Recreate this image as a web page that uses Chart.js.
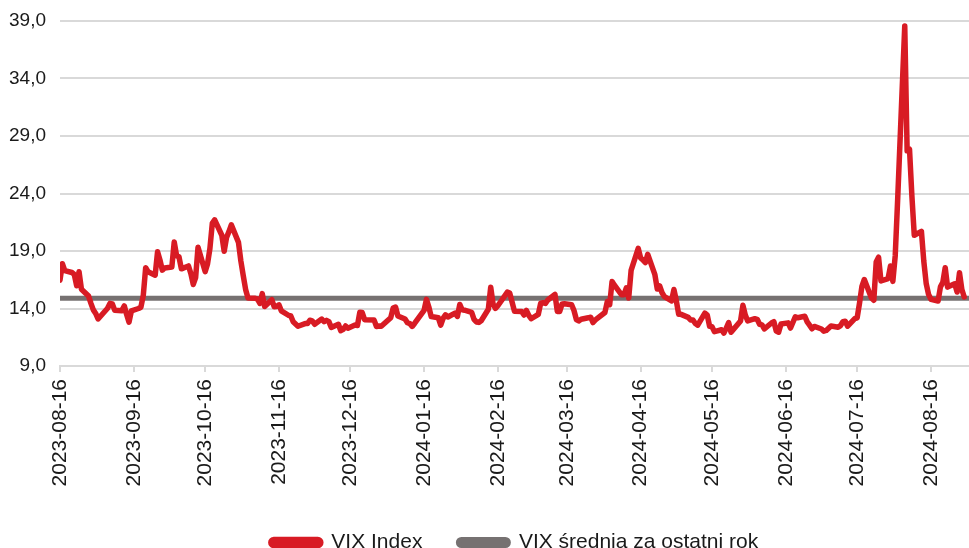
<!DOCTYPE html>
<html>
<head>
<meta charset="utf-8">
<script src="https://cdn.jsdelivr.net/npm/chart.js@4"></script>
<style>
  html, body { margin: 0; padding: 0; background: #fff; }
  #wrap { width: 969px; height: 548px; position: relative; }
</style>
</head>
<body>
<div id="wrap"><canvas id="myChart" width="969" height="548"></canvas></div>
<script>
// trading days, grouped by month
const months = ['2023-08','2023-09','2023-10','2023-11','2023-12','2024-01','2024-02','2024-03','2024-04','2024-05','2024-06','2024-07','2024-08'];
const days = [
  [16,17,18,21,22,23,24,25,28,29,30,31],
  [1,5,6,7,8,11,12,13,14,15,18,19,20,21,22,25,26,27,28,29],
  [2,3,4,5,6,9,10,11,12,13,16,17,18,19,20,23,24,25,26,27,30,31],
  [1,2,3,6,7,8,9,10,13,14,15,16,17,20,21,22,24,27,28,29,30],
  [1,4,5,6,7,8,11,12,13,14,15,18,19,20,21,22,26,27,28,29],
  [2,3,4,5,8,9,10,11,12,16,17,18,19,22,23,24,25,26,29,30,31],
  [1,2,5,6,7,8,9,12,13,14,15,16,20,21,22,23,26,27,28,29],
  [1,4,5,6,7,8,11,12,13,14,15,18,19,20,21,22,25,26,27,28],
  [1,2,3,4,5,8,9,10,11,12,15,16,17,18,19,22,23,24,25,26,29,30],
  [1,2,3,6,7,8,9,10,13,14,15,16,17,20,21,22,23,24,28,29,30,31],
  [3,4,5,6,7,10,11,12,13,14,17,18,20,21,24,25,26,27,28],
  [1,2,3,5,8,9,10,11,12,15,16,17,18,19,22,23,24,25,26,29,30,31],
  [1,2,5,6,7,8,9,12,13,14,15,16,19,20,21,22,23,26,27,28,29,30]
];
const vix = [
  [16.46,17.89,17.30,17.13,16.97,15.98,17.20,15.68,15.08,14.45,13.88,13.57],
  [13.09,14.02,14.45,14.40,13.84,13.80,14.23,13.48,12.82,13.79,14.00,14.11,15.14,17.54,17.20,16.90,18.94,18.22,17.34,17.52],
  [17.61,19.78,18.58,18.49,17.45,17.70,17.03,16.09,16.69,19.32,17.21,17.88,19.22,21.40,21.71,20.37,18.97,20.19,20.68,21.27,19.75,18.14],
  [16.87,15.66,14.91,14.89,14.81,14.45,15.29,14.17,14.76,14.16,14.18,14.32,13.80,13.41,13.35,12.85,12.46,12.69,12.69,12.98,12.92],
  [12.63,13.08,12.85,12.97,12.86,12.35,12.63,12.07,12.19,12.48,12.28,12.56,12.53,13.67,13.65,13.03,12.99,12.43,12.47,12.45],
  [13.20,14.04,14.13,13.35,13.08,12.76,12.69,12.44,12.70,13.84,14.79,14.13,13.30,13.19,12.55,13.14,13.45,13.26,13.60,13.31,14.35],
  [13.88,13.85,13.67,13.06,12.83,12.79,12.93,13.93,15.85,14.38,14.01,14.24,15.42,15.34,14.54,13.75,13.74,13.43,13.84,13.40],
  [13.11,13.49,14.46,14.50,14.44,14.74,15.23,13.75,13.75,14.40,14.41,14.33,13.82,13.04,12.92,13.06,13.19,13.24,12.78,13.01],
  [13.65,14.61,14.33,16.35,16.03,15.19,15.20,15.80,14.91,17.31,19.23,18.40,18.21,18.00,18.71,16.94,15.69,15.97,15.37,15.03,14.67,15.65],
  [14.68,13.49,13.49,13.23,13.00,13.00,12.69,12.55,13.60,13.42,12.45,12.42,11.99,12.15,11.86,12.29,12.77,11.93,12.92,14.28,13.43,12.92],
  [13.11,13.06,12.63,12.58,12.22,12.74,12.85,12.04,11.94,12.66,12.75,12.30,13.28,13.20,13.33,12.84,12.55,12.24,12.44],
  [12.22,12.03,12.09,12.48,12.37,12.51,12.85,12.89,12.46,13.12,13.19,14.48,15.93,16.52,14.91,14.72,18.04,18.46,16.39,16.60,17.69,16.36],
  [18.59,23.39,38.57,27.71,27.85,23.79,20.37,20.71,18.12,16.19,15.23,14.80,14.65,15.88,16.27,17.55,15.86,16.15,15.43,17.11,15.65,15.00]
];
const vixMean = 14.9;

const tickLabels = ['2023-08-16','2023-09-16','2023-10-16','2023-11-16','2023-12-16','2024-01-16','2024-02-16','2024-03-16','2024-04-16','2024-05-16','2024-06-16','2024-07-16','2024-08-16'];
const yTicks = [9, 14, 19, 24, 29, 34, 39];
const axisStart = '2023-08-16';
const axisEnd = '2024-09-01';

// day number counted from axisStart
const t0 = Date.parse(axisStart + 'T00:00:00Z');
const dayNo = s => Math.round((Date.parse(s + 'T00:00:00Z') - t0) / 86400000);

const vixPoints = [];
months.forEach((m, i) => {
  days[i].forEach((d, j) => {
    const ds = m + '-' + String(d).padStart(2, '0');
    vixPoints.push({ x: dayNo(ds), y: vix[i][j] });
  });
});
const meanPoints = [{ x: dayNo(axisStart), y: vixMean }, { x: dayNo(axisEnd), y: vixMean }];

const FONT = "'Liberation Sans', Arial, sans-serif";
const RED = '#D81B24';
const GREY = '#767171';

const ctx = document.getElementById('myChart').getContext('2d');
const myChart = new Chart(ctx, {
  type: 'line',
  data: {
    datasets: [{
      label: 'VIX Index',
      data: vixPoints,
      borderColor: RED,
      backgroundColor: RED,
      borderWidth: 5.5,
      pointRadius: 0,
      tension: 0,
      borderJoinStyle: 'round',
      borderCapStyle: 'round'
    }, {
      label: 'VIX średnia za ostatni rok',
      data: meanPoints,
      borderColor: GREY,
      backgroundColor: GREY,
      borderWidth: 5,
      pointRadius: 0,
      tension: 0
    }]
  },
  options: {
    responsive: false,
    animation: false,
    events: [],
    layout: { padding: { top: 21, right: 0, left: 0, bottom: -15 } },
    scales: {
      x: {
        type: 'linear',
        min: dayNo(axisStart),
        max: dayNo(axisEnd),
        afterBuildTicks: (scale) => {
          scale.ticks = tickLabels.map(s => ({ value: dayNo(s) }));
        },
        afterFit: (scale) => { scale.height = 130; },
        grid: {
          drawOnChartArea: false,
          drawTicks: true,
          tickLength: 6,
          color: '#D9D9D9',
          lineWidth: 2
        },
        border: { display: true, color: '#D9D9D9', width: 2 },
        ticks: {
          autoSkip: false,
          maxRotation: 90,
          minRotation: 90,
          padding: 7,
          color: '#1a1a1a',
          font: { family: FONT, size: 21 },
          callback: (v, i) => tickLabels[i]
        }
      },
      y: {
        min: 9,
        max: 39,
        afterBuildTicks: (scale) => {
          scale.ticks = yTicks.map(v => ({ value: v }));
        },
        afterFit: (scale) => {
          scale.width = 60;
          scale.paddingTop = 0;
          scale.paddingBottom = 0;
        },
        grid: { color: '#D9D9D9', lineWidth: 2, drawTicks: false },
        border: { display: false },
        ticks: {
          padding: 14,
          color: '#1a1a1a',
          font: { family: FONT, size: 19 },
          callback: (v) => v.toFixed(1).replace('.', ',')
        }
      }
    },
    plugins: {
      legend: {
        position: 'bottom',
        fullSize: false,
        labels: {
          boxWidth: 50,
          boxHeight: 6,
          useBorderRadius: true,
          borderRadius: 3,
          padding: 36,
          color: '#1a1a1a',
          font: { family: FONT, size: 21 }
        }
      },
      tooltip: { enabled: false }
    }
  }
});
</script>
</body>
</html>
